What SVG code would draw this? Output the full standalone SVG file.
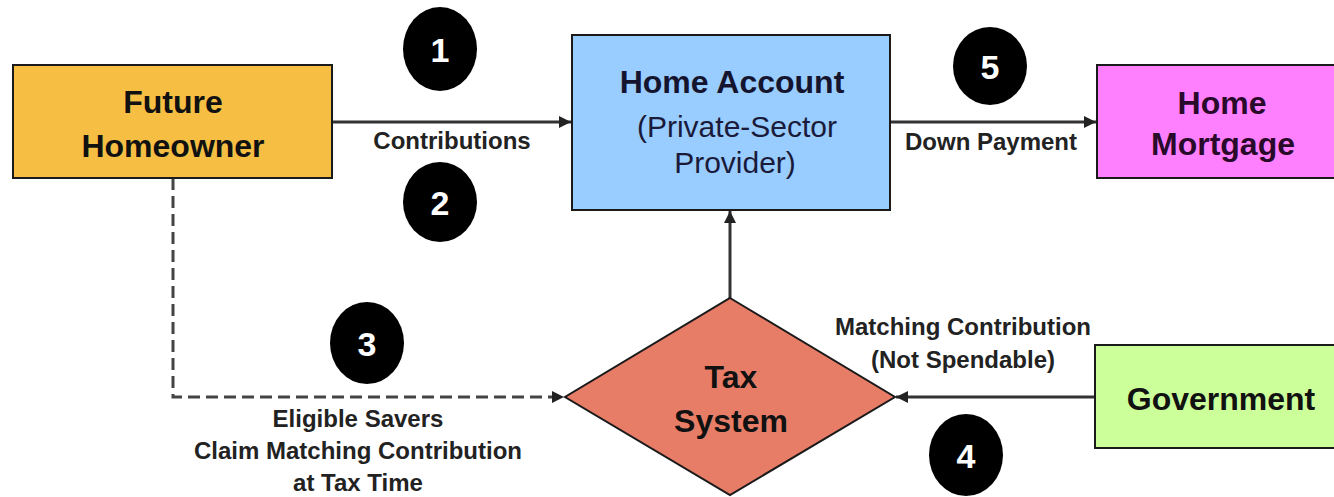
<svg xmlns="http://www.w3.org/2000/svg" width="1334" height="497" viewBox="0 0 1334 497">
<style>
  .box { stroke: #1a1a1a; stroke-width: 2; }
  .title { font-family: "Liberation Sans", Arial, sans-serif; font-weight: bold; font-size: 32px; fill: #111; text-anchor: middle; }
  .sub { font-family: "Liberation Sans", Arial, sans-serif; font-size: 30px; fill: #1a1a3a; text-anchor: middle; }
  .lbl { font-family: "Liberation Sans", Arial, sans-serif; font-weight: bold; font-size: 24px; fill: #222; text-anchor: middle; }
  .num { font-family: "Liberation Sans", Arial, sans-serif; font-weight: bold; font-size: 34px; fill: #fff; text-anchor: middle; }
  .conn { stroke: #333; stroke-width: 3; fill: none; }
  .dash { stroke: #444; stroke-width: 3; fill: none; stroke-dasharray: 12 6; }
</style>
<defs>
  <marker id="arrow" viewBox="0 0 10 10" refX="10" refY="5" markerWidth="4" markerHeight="4" orient="auto" markerUnits="strokeWidth">
    <path d="M0,0 L10,5 L0,10 z" fill="#222"/>
  </marker>
</defs>
<rect width="1334" height="497" fill="#ffffff"/>

<g id="connectors">
  <line class="conn" x1="332" y1="122" x2="571" y2="122" marker-end="url(#arrow)"/>
  <line class="conn" x1="890" y1="122" x2="1096" y2="122" marker-end="url(#arrow)"/>
  <line class="conn" x1="730" y1="298" x2="730" y2="211" marker-end="url(#arrow)"/>
  <line class="conn" x1="1095" y1="397" x2="896" y2="397" marker-end="url(#arrow)"/>
  <path class="dash" d="M173,178 L173,397 L564,397" marker-end="url(#arrow)"/>
  <text class="lbl" x="452" y="149">Contributions</text>
  <text class="lbl" x="991" y="150">Down Payment</text>
  <text class="lbl" x="963" y="335">Matching Contribution</text>
  <text class="lbl" x="963" y="368">(Not Spendable)</text>
  <text class="lbl" x="358" y="427">Eligible Savers</text>
  <text class="lbl" x="358" y="459">Claim Matching Contribution</text>
  <text class="lbl" x="358" y="491">at Tax Time</text>
</g>

<g id="future-homeowner">
  <rect class="box" x="13" y="65" width="319" height="113" fill="#F6BF44"/>
  <text class="title" x="173" y="113">Future</text>
  <text class="title" x="173" y="157">Homeowner</text>
</g>

<g id="home-account">
  <rect class="box" x="572" y="35" width="318" height="175" fill="#99CCFF"/>
  <text class="title" x="732" y="93" style="fill:#14142e">Home Account</text>
  <text class="sub" x="737" y="137">(Private-Sector</text>
  <text class="sub" x="735" y="173">Provider)</text>
</g>

<g id="home-mortgage">
  <rect class="box" x="1097" y="65" width="250" height="113" fill="#FF80FF"/>
  <text class="title" x="1222" y="114" style="fill:#2a0a2a">Home</text>
  <text class="title" x="1223" y="155" style="fill:#2a0a2a">Mortgage</text>
</g>

<g id="government">
  <rect class="box" x="1095" y="345" width="250" height="103" fill="#CCFF99"/>
  <text class="title" x="1221" y="410">Government</text>
</g>

<g id="tax-system">
  <polygon class="box" points="730,298 895,397 730,495 565,397" fill="#E77D67"/>
  <text class="title" x="731" y="388">Tax</text>
  <text class="title" x="731" y="432">System</text>
</g>

<g id="step-1">
  <ellipse cx="440" cy="49" rx="37" ry="42" fill="#000"/>
  <text class="num" x="440" y="62">1</text>
</g>
<g id="step-2">
  <ellipse cx="440" cy="202" rx="37" ry="40" fill="#000"/>
  <text class="num" x="440" y="215">2</text>
</g>
<g id="step-3">
  <ellipse cx="367" cy="343" rx="37" ry="41" fill="#000"/>
  <text class="num" x="367" y="356">3</text>
</g>
<g id="step-4">
  <ellipse cx="966" cy="455" rx="37" ry="41" fill="#000"/>
  <text class="num" x="966" y="468">4</text>
</g>
<g id="step-5">
  <ellipse cx="990" cy="66" rx="37" ry="39" fill="#000"/>
  <text class="num" x="990" y="79">5</text>
</g>
</svg>
